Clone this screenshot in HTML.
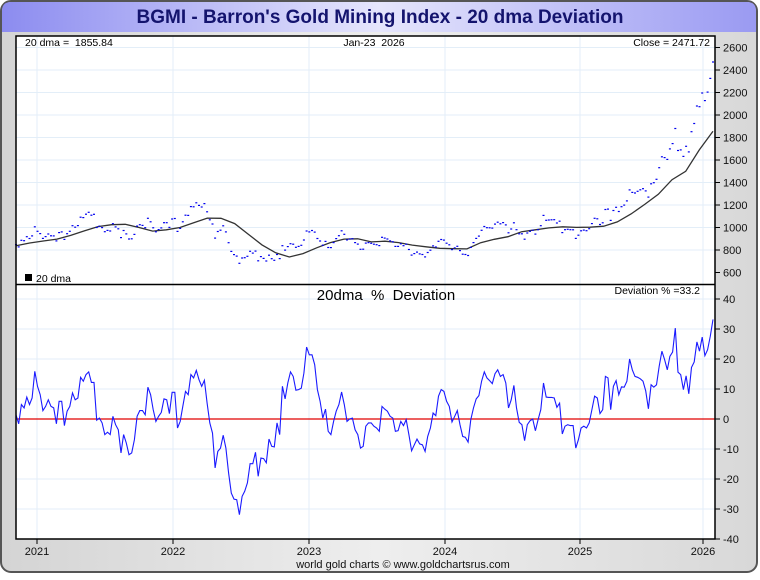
<!DOCTYPE html>
<html><head><meta charset="utf-8">
<style>
html,body{margin:0;padding:0;background:#fff;}
body{width:760px;height:575px;overflow:hidden;font-family:"Liberation Sans",Arial,sans-serif;}
text{white-space:pre;}
</style></head>
<body>
<svg id="chart" width="760" height="575" xmlns="http://www.w3.org/2000/svg" font-family="Liberation Sans, Arial, sans-serif">
<defs>
<linearGradient id="bg" x1="0" y1="0" x2="1" y2="0"><stop offset="0" stop-color="#d4d4d4"/><stop offset="0.5" stop-color="#eeeeee"/><stop offset="1" stop-color="#d8d8d8"/></linearGradient>
<linearGradient id="hdr" x1="0" y1="0" x2="1" y2="0"><stop offset="0" stop-color="#8c8cf0"/><stop offset="0.5" stop-color="#e6e6fc"/><stop offset="1" stop-color="#9a9af2"/></linearGradient>
</defs>
<rect x="1" y="1" width="756" height="571" rx="10" fill="url(#bg)" stroke="#555" stroke-width="2"/>
<path d="M2,32 V11 Q2,2 11,2 H747 Q756,2 756,11 V32 Z" fill="url(#hdr)"/>
<text x="380" y="23" text-anchor="middle" font-size="19" font-weight="bold" fill="#14146e">BGMI - Barron's Gold Mining Index - 20 dma Deviation</text>
<rect x="16" y="36" width="699" height="503" fill="#fff"/>
<g id="grid"></g>
<g id="marks"></g>
<rect x="16" y="36" width="699" height="503" fill="none" stroke="#000" stroke-width="1.5"/>
<line x1="16" y1="284.5" x2="715" y2="284.5" stroke="#000" stroke-width="1.5"/>
<g id="axes" font-size="11" fill="#111"></g>
<text x="25" y="46" font-size="10.5" fill="#000" xml:space="preserve">20 dma =  1855.84</text>
<text x="374" y="46" text-anchor="middle" font-size="10.5" fill="#000" xml:space="preserve">Jan-23  2026</text>
<text x="710" y="46" text-anchor="end" font-size="10.5" fill="#000">Close = 2471.72</text>
<rect x="25" y="274" width="7" height="7" fill="#000"/>
<text x="36" y="282" font-size="10.5" fill="#000">20 dma</text>
<text x="386" y="300" text-anchor="middle" font-size="15" fill="#000" xml:space="preserve">20dma  %  Deviation</text>
<text x="700" y="294" text-anchor="end" font-size="10.5" fill="#000">Deviation % =33.2</text>
<text x="403" y="568" text-anchor="middle" font-size="11" fill="#111">world gold charts © www.goldchartsrus.com</text>
</svg>
<script>
const yearLabels = ["2021","2022","2023","2024","2025","2026"];
const yearPos = [37,173,309,445,580,703];
const priceTicks = [600,800,1000,1200,1400,1600,1800,2000,2200,2400,2600];
const devTicks = [-40,-30,-20,-10,0,10,20,30,40];
const dmaValues = [837,862,880,897,930,970,1008,1025,1028,1000,968,980,1000,1042,1084,1082,1035,940,845,775,738,768,820,866,897,900,872,878,866,844,828,815,812,810,865,895,918,963,980,996,1006,1001,1003,1012,1050,1120,1205,1295,1425,1500,1690,1855.84];
const deviation = [1.4,-1.6,4.8,3.7,7.3,4.8,7,15.9,10.9,8.1,2.8,4.2,6.4,4.2,3.7,-1.6,5.9,5.9,-2.2,2.6,4.2,8.7,6.4,7,13.9,12.6,14.8,15.7,12.2,12.2,-0.4,0.3,-1.3,-5.2,-4.4,-5.2,0.9,-1.9,-3.6,-11.3,-5.2,-8,-11.9,-11.3,-6.9,0.9,2.8,2.8,1.4,10.6,8.1,3.1,-0.8,0.9,2.2,6.7,6.4,1.8,8.9,8.9,-3,-0.8,4.2,9.2,8.1,14.8,13.7,16.2,13.1,10.9,12.9,5.3,-1.3,-4.7,-16.3,-10.8,-9.7,-5.4,-9.7,-18,-24.7,-26.7,-26.9,-31.9,-25.8,-24.1,-21.3,-14.9,-14.9,-11.1,-19.1,-13,-13.2,-14.6,-6.7,-9.1,-9.3,-1.3,-5.2,10.9,6.7,12,15.7,14.2,9.6,9.8,10.3,15.3,24,21.4,21.4,18.1,9.8,5.9,0.3,3.3,-4.1,-5.2,-0.8,2.6,4.8,9,4.8,-0.8,0,0.3,-3.6,-5.2,-9.7,-9.1,-2.4,-1.3,-1.3,-2.4,-3,-4.1,4.2,3.3,2.6,0.9,0.3,-4.1,-3.9,-0.8,-2.2,-0.2,-5.2,-10.6,-8.6,-6.7,-8.3,-8.6,-10.8,-5.8,-3,2,1.1,7.6,9.8,9.2,5.9,4.2,-1,0.9,2.8,-1.9,-5.8,-6.1,-7.7,-0.2,3.7,6.7,7.8,12.6,15.7,13.7,12.8,11.8,15.1,16.4,14.2,14.8,12,3.7,6.4,11.2,3.7,-1.1,-1.9,-7.2,-1.9,-0.6,0,-3.9,-0.2,3.1,12,7.3,7.2,7.2,7,3.9,5.3,-5,-2.4,-1.9,-2.2,-2.2,-9.7,-6.9,-3,-2.4,-3,-1.3,3.1,7.6,7,1.8,3.1,14.2,13.7,3.1,10.9,12.8,8.1,10.7,10.6,12.6,20,16.4,14.2,13.9,13.4,12.6,9.4,3.4,11.4,10.6,11.4,17.6,22.6,19.8,16.4,20.9,22.3,30.3,15.6,14.8,9.8,14.4,8.4,17.2,19,25.7,22.6,27.3,21.1,23.1,27.6,33.2];

const NS="http://www.w3.org/2000/svg";
const X0=16, X1=713;
function xFrac(f){return X0+f*(X1-X0);}
function yPrice(v){return 272.5-(v-600)*0.1125;}
function yDev(v){return 419-v*3;}
function mk(tag,attrs,parent){const e=document.createElementNS(NS,tag);for(const k in attrs)e.setAttribute(k,attrs[k]);parent.appendChild(e);return e;}
const grid=document.getElementById('grid'), marks=document.getElementById('marks'), axes=document.getElementById('axes');

yearPos.forEach((x,i)=>{
  const g=mk('line',{x1:x,y1:36,x2:x,y2:539,stroke:'#e3eef8','stroke-width':1},grid);
  
  
  const t=mk('line',{x1:x,y1:539,x2:x,y2:544,stroke:'#000'},axes);
  
  
  const l=mk('text',{x:x,y:555,'text-anchor':'middle'},axes);l.textContent=yearLabels[i];
  
  
});
priceTicks.forEach(v=>{
  const y=yPrice(v);
  if(v>600){const g=mk('line',{x1:16,y1:y,x2:715,y2:y,stroke:'#e3eef8'},grid);
  
  }
  const t=mk('line',{x1:715,y1:y,x2:720,y2:y,stroke:'#000'},axes);
  
  
  const l=mk('text',{x:723,y:y+4},axes);l.textContent=v;
  
  
});
devTicks.forEach(v=>{
  const y=yDev(v);
  const g=mk('line',{x1:16,y1:y,x2:715,y2:y,stroke:'#e3eef8'},grid);
  
  
  const t=mk('line',{x1:715,y1:y,x2:720,y2:y,stroke:'#000'},axes);
  
  
  const l=mk('text',{x:723,y:y+4},axes);l.textContent=v;
  
  
});

const nD=dmaValues.length;
let d='';
dmaValues.forEach((v,k)=>{d+=(k?'L':'M')+xFrac(k/(nD-1)).toFixed(1)+','+yPrice(v).toFixed(1);});
const dl=mk('path',{d:d,fill:'none',stroke:'#333','stroke-width':1.3},marks);



function dmaAt(f){const p=f*(nD-1);const k=Math.min(Math.floor(p),nD-2);const t=p-k;return dmaValues[k]*(1-t)+dmaValues[k+1]*t;}
const nV=deviation.length;
deviation.forEach((dv,i)=>{
  const f=i/(nV-1);
  const close=dmaAt(f)*(1+dv/100);
  const r=mk('rect',{x:(xFrac(f)-1).toFixed(1),y:(yPrice(close)-0.5).toFixed(1),width:2,height:1.2,fill:'#0000ee'},marks);
  
  
});

const z=mk('line',{x1:16,y1:yDev(0),x2:715,y2:yDev(0),stroke:'#e00000','stroke-width':1.2},marks);



let dd='';
deviation.forEach((v,i)=>{dd+=(i?'L':'M')+xFrac(i/(nV-1)).toFixed(1)+','+yDev(v).toFixed(1);});
const dvl=mk('path',{d:dd,fill:'none',stroke:'#1a1aff','stroke-width':1.1},marks);


</script>
</body></html>
